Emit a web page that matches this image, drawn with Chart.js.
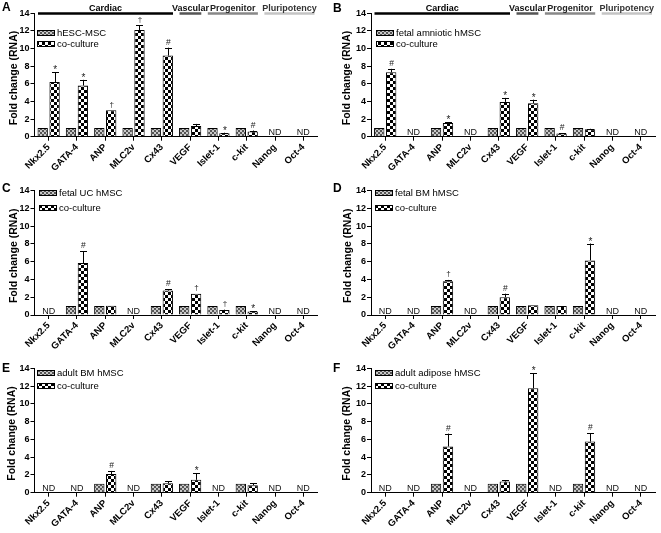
<!DOCTYPE html>
<html><head><meta charset="utf-8">
<script src="https://cdn.jsdelivr.net/npm/chart.js@4/dist/chart.umd.min.js"></script>
<style>
html,body{margin:0;padding:0;background:#fff;}
#wrap{position:relative;width:661px;height:533px;overflow:hidden;background:#fff;}
canvas{position:absolute;}
</style></head><body>
<div id="wrap"></div>
<script>
// ---------- data ----------
const categories = ['Nkx2.5','GATA-4','ANP','MLC2v','Cx43','VEGF','Islet-1','c-kit','Nanog','Oct-4'];
const yMin = 0, yMax = 14, yStep = 2;
const groupNames = ['Cardiac','Vascular','Progenitor','Pluripotency'];
const groupFirst = [0,5,6,8];
const groupLast = [4,5,7,9];
const coLabel = 'co-culture';

const labelA = 'hESC-MSC';
const controlA = [1,1,1,1,1,1,1,1,null,null];
const cocultureA = [6.2,5.8,3.0,12.1,9.2,1.2,0.4,0.6,null,null];
const errorA = [1.1,0.65,0,0.55,0.9,0.25,0.05,0.1,null,null];
const signifA = ['*','*','\u2020','\u2020','#','','*','#','',''];

const labelB = 'fetal amniotic hMSC';
const controlB = [1,null,1,null,1,1,1,1,null,null];
const cocultureB = [7.3,null,1.55,null,3.95,3.8,0.35,0.85,null,null];
const errorB = [0.4,null,0.1,null,0.45,0.4,0.05,0.05,null,null];
const signifB = ['#','','*','','*','*','#','','',''];

const labelC = 'fetal UC hMSC';
const controlC = [null,1,1,null,1,1,1,1,null,null];
const cocultureC = [null,5.85,1.05,null,2.75,2.4,0.55,0.4,null,null];
const errorC = [null,1.35,0,null,0.15,0,0.05,0.05,null,null];
const signifC = ['','#','','','#','\u2020','\u2020','*','',''];

const labelD = 'fetal BM hMSC';
const controlD = [null,null,1,null,1,1,1,1,null,null];
const cocultureD = [null,null,3.8,null,2.0,1.1,1.0,6.15,null,null];
const errorD = [null,null,0.15,null,0.4,0,0,1.9,null,null];
const signifD = ['','','\u2020','','#','','','*','',''];

const labelE = 'adult BM hMSC';
const controlE = [null,null,1,null,1,1,null,1,null,null];
const cocultureE = [null,null,2.1,null,1.05,1.45,null,0.85,null,null];
const errorE = [null,null,0.35,null,0.25,0.75,null,0.2,null,null];
const signifE = ['','','#','','','*','','','',''];

const labelF = 'adult adipose hMSC';
const controlF = [null,null,1,null,1,1,null,1,null,null];
const cocultureF = [null,null,5.2,null,1.25,11.75,null,5.75,null,null];
const errorF = [null,null,1.45,null,0.15,1.7,null,0.95,null,null];
const signifF = ['','','#','','','*','','#','',''];

// ---------- layout (positions / sizes only) ----------
const panels = [
  {letter:'A', left:0,   top:0,   w:330, h:178, area:[34.5,317.5,13.3,136.7], ctrl:controlA, co:cocultureA, err:errorA, sig:signifA, label:labelA, legend:[37,32.5,11], lt:[2,11], ytx:14, groups:true},
  {letter:'B', left:330, top:0,   w:331, h:178, area:[41,325,13.3,136.7],     ctrl:controlB, co:cocultureB, err:errorB, sig:signifB, label:labelB, legend:[46,33,11],   lt:[3,12], ytx:17, groups:true},
  {letter:'C', left:0,   top:178, w:330, h:178, area:[34.5,317.5,12.7,137],   ctrl:controlC, co:cocultureC, err:errorC, sig:signifC, label:labelC, legend:[39,15.3,15], lt:[2,14], ytx:14.5, groups:false},
  {letter:'D', left:330, top:178, w:331, h:178, area:[41,325,12.7,137],       ctrl:controlD, co:cocultureD, err:errorD, sig:signifD, label:labelD, legend:[45,15.3,15], lt:[3,14], ytx:18, groups:false},
  {letter:'E', left:0,   top:356, w:330, h:177, area:[34.5,317.5,12.3,136.7], ctrl:controlE, co:cocultureE, err:errorE, sig:signifE, label:labelE, legend:[37,16.7,13], lt:[2,16], ytx:12.5, groups:false},
  {letter:'F', left:330, top:356, w:331, h:177, area:[41,325,12.3,136.7],     ctrl:controlF, co:cocultureF, err:errorF, sig:signifF, label:labelF, legend:[45,16.7,13], lt:[3,16], ytx:17.5, groups:false}
];

const FONT = '"Liberation Sans", Arial, Helvetica, sans-serif';
Chart.defaults.font.family = FONT;
Chart.defaults.color = '#000';
const sigBase = {'*': 1, '#': -3, '\u2020': -3.5};
const sigSize = {'*': 10, '#': 8.5, '\u2020': 8};

function makePatterns(ctx){
  const a = document.createElement('canvas'); a.width = 4; a.height = 4;
  const g = a.getContext('2d');
  g.fillStyle = '#c8c8c8'; g.fillRect(0,0,4,4);
  g.fillStyle = '#555555'; g.fillRect(0,0,2,2); g.fillRect(2,2,2,2);
  const b = document.createElement('canvas'); b.width = 6; b.height = 6;
  const h = b.getContext('2d');
  h.fillStyle = '#ffffff'; h.fillRect(0,0,6,6);
  h.fillStyle = '#000000'; h.fillRect(0,0,3,3); h.fillRect(3,3,3,3);
  return [ctx.createPattern(a,'repeat'), ctx.createPattern(b,'repeat')];
}

const decoPlugin = {
  id: 'deco',
  afterDatasetsDraw(chart, args, o) {
    const ctx = chart.ctx, xs = chart.scales.x, ys = chart.scales.y, ca = chart.chartArea;
    ctx.save();
    const meta = chart.getDatasetMeta(1);
    const coData = chart.data.datasets[1].data;
    ctx.strokeStyle = '#000'; ctx.lineWidth = 1; ctx.fillStyle = '#000';
    coData.forEach((v, i) => {
      if (v == null) return;
      const bar = meta.data[i];
      let top = ys.getPixelForValue(v);
      const e = o.err[i];
      if (e) {
        const ty = ys.getPixelForValue(v + e);
        ctx.beginPath();
        ctx.moveTo(Math.round(bar.x)+0.5, top);
        ctx.lineTo(Math.round(bar.x)+0.5, ty);
        ctx.moveTo(Math.round(bar.x)-3, Math.round(ty)+0.5);
        ctx.lineTo(Math.round(bar.x)+4, Math.round(ty)+0.5);
        ctx.stroke();
        top = ty;
      }
      const s = o.sig[i];
      if (s) {
        ctx.font = (sigSize[s] || 8.5) + 'px ' + FONT;
        ctx.textAlign = 'center'; ctx.textBaseline = 'alphabetic';
        ctx.fillStyle = '#222';
        ctx.fillText(s, bar.x + 0.5, top + (sigBase[s] || -3));
        ctx.fillStyle = '#000';
      }
    });
    ctx.font = '9px ' + FONT;
    ctx.textAlign = 'center'; ctx.textBaseline = 'alphabetic'; ctx.fillStyle = '#111';
    chart.data.datasets[0].data.forEach((v, i) => {
      if (v == null) ctx.fillText('ND', xs.getPixelForValue(i), ca.bottom - 1.5);
    });
    ctx.restore();
  },
  afterDraw(chart, args, o) {
    const ctx = chart.ctx, xs = chart.scales.x, ca = chart.chartArea;
    ctx.save();
    ctx.font = 'bold 12px ' + FONT; ctx.fillStyle = '#000';
    ctx.textAlign = 'left'; ctx.textBaseline = 'alphabetic';
    ctx.fillText(o.letter, o.lt[0], o.lt[1]);
    ctx.save();
    ctx.translate(o.ytx, (ca.top + ca.bottom) / 2 + 3);
    ctx.rotate(-Math.PI / 2);
    ctx.font = 'bold 10.5px ' + FONT; ctx.textAlign = 'center'; ctx.textBaseline = 'middle';
    ctx.fillText('Fold change (RNA)', 0, 0);
    ctx.restore();
    const [lx, ly, gap] = o.legend;
    const pats = o.pats;
    const names = [o.label, coLabel];
    ctx.font = '9.5px ' + FONT; ctx.textBaseline = 'middle'; ctx.textAlign = 'left';
    names.forEach((n, k) => {
      const cy = ly + k * gap;
      ctx.fillStyle = pats[k];
      ctx.fillRect(lx, Math.round(cy - 3), 18, 6);
      ctx.strokeStyle = '#000'; ctx.lineWidth = 1;
      ctx.strokeRect(lx + 0.5, Math.round(cy - 3) + 0.5, 17, 5);
      ctx.fillStyle = '#000';
      ctx.fillText(n, lx + 20, cy + 0.5);
    });
    if (o.groups) {
      const half = (xs.getPixelForValue(1) - xs.getPixelForValue(0)) / 2;
      const lineCols = ['#000000','#555555','#888888','#c4c4c4'];
      const textCols = ['#000000','#111111','#222222','#333333'];
      groupNames.forEach((g, k) => {
        const x0 = xs.getPixelForValue(groupFirst[k]) - half + 3.5;
        const x1 = xs.getPixelForValue(groupLast[k]) + half - 3;
        ctx.strokeStyle = lineCols[k]; ctx.lineWidth = 2.5;
        ctx.beginPath(); ctx.moveTo(x0, 13.5); ctx.lineTo(x1, 13.5); ctx.stroke();
        ctx.font = 'bold 9px ' + FONT; ctx.fillStyle = textCols[k];
        ctx.textAlign = 'center'; ctx.textBaseline = 'alphabetic';
        ctx.fillText(g, (x0 + x1) / 2, 11);
      });
    }
    ctx.restore();
  }
};

const wrap = document.getElementById('wrap');
panels.forEach(p => {
  const cv = document.createElement('canvas');
  cv.width = p.w; cv.height = p.h;
  cv.style.left = p.left + 'px'; cv.style.top = p.top + 'px';
  cv.style.width = p.w + 'px'; cv.style.height = p.h + 'px';
  wrap.appendChild(cv);
  const ctx = cv.getContext('2d');
  const pats = makePatterns(ctx);
  const [al, ar, at, ab] = p.area;
  new Chart(ctx, {
    type: 'bar',
    data: {
      labels: categories,
      datasets: [
        {label: p.label, data: p.ctrl, backgroundColor: pats[0], borderColor: '#000', borderWidth: 1, categoryPercentage: 0.84, barPercentage: 0.87},
        {label: coLabel, data: p.co, backgroundColor: pats[1], borderColor: '#000', borderWidth: 1, categoryPercentage: 0.84, barPercentage: 0.87}
      ]
    },
    options: {
      responsive: false,
      animation: false,
      events: [],
      layout: {padding: {left: 0, right: p.w - ar, top: at, bottom: 0}},
      plugins: {
        legend: {display: false},
        tooltip: {enabled: false},
        deco: {letter: p.letter, lt: p.lt, ytx: p.ytx, legend: p.legend, label: p.label, err: p.err, sig: p.sig, groups: p.groups, pats: pats}
      },
      scales: {
        x: {
          offset: true,
          afterFit: s => { s.height = p.h - ab; },
          border: {display: true, color: '#000', width: 1},
          grid: {display: true, drawOnChartArea: false, drawTicks: true, tickLength: 4, offset: false, color: '#000'},
          ticks: {autoSkip: false, maxRotation: 45, minRotation: 45, padding: 1, color: '#000', font: {family: FONT, size: 9.5, weight: 'bold'}}
        },
        y: {
          min: yMin, max: yMax,
          afterFit: s => { s.width = al; },
          border: {display: true, color: '#000', width: 1},
          grid: {display: true, drawOnChartArea: false, drawTicks: true, tickLength: 4, color: '#000'},
          ticks: {stepSize: yStep, padding: 1, color: '#000', font: {family: FONT, size: 9, weight: 'bold'}}
        }
      }
    },
    plugins: [decoPlugin]
  });
});
</script>
</body></html>
